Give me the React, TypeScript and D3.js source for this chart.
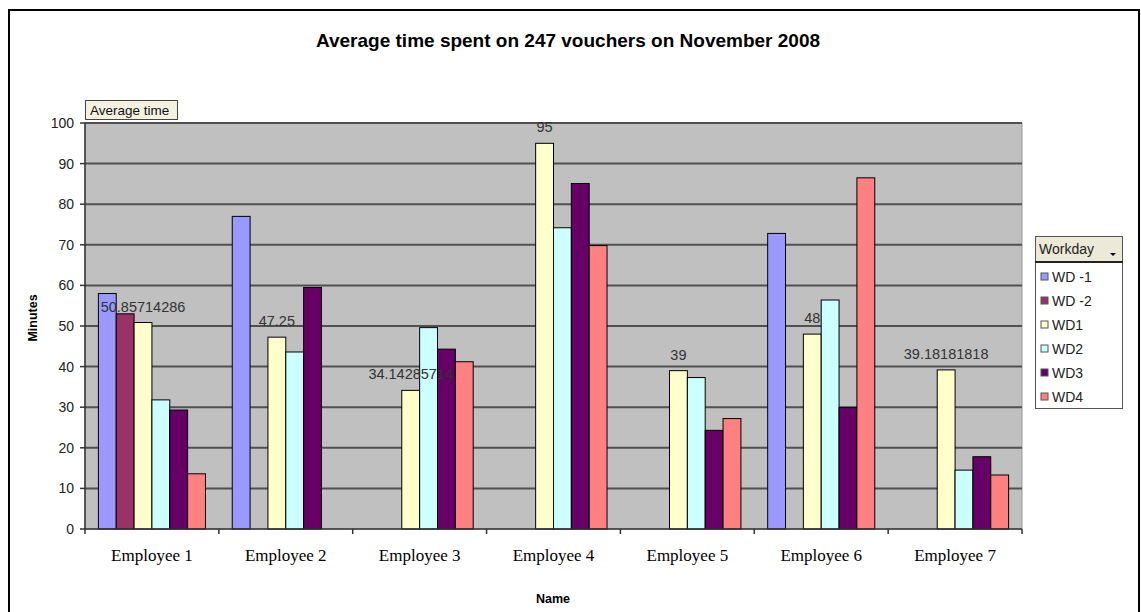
import React from "react";
import * as d3 from "d3";

const employees = ["Employee 1", "Employee 2", "Employee 3", "Employee 4", "Employee 5", "Employee 6", "Employee 7"];
const seriesNames = ["WD -1", "WD -2", "WD1", "WD2", "WD3", "WD4"];
const seriesColors = ["#9999FF", "#993366", "#FFFFCC", "#CCFFFF", "#660066", "#FF8080"];
const wdMinus1 = [58, 77, null, null, null, 72.8, null];
const wdMinus2 = [53, null, null, null, null, null, null];
const wd1 = [50.85714286, 47.25, 34.14285714, 95, 39, 48, 39.18181818];
const wd2 = [31.8, 43.6, 49.6, 74.2, 37.3, 56.4, 14.5];
const wd3 = [29.3, 59.5, 44.3, 85.1, 24.3, 29.9, 17.8];
const wd4 = [13.6, null, 41.2, 69.8, 27.2, 86.5, 13.3];
const seriesValues = [wdMinus1, wdMinus2, wd1, wd2, wd3, wd4];
const labeledSeries = "WD1";
const yTicks = [0, 10, 20, 30, 40, 50, 60, 70, 80, 90, 100];

const W = 1141, H = 612;
const plot = { left: 85, right: 1022, top: 123, bottom: 529 };

export default function App() {
  const x0 = d3.scaleBand<string>().domain(employees).range([plot.left, plot.right]).padding(0);
  const bw = x0.bandwidth();
  const barW = bw / 7.5;
  const x1 = d3.scaleBand<string>().domain(seriesNames).range([barW * 0.75, bw - barW * 0.75]).padding(0);
  const y = d3.scaleLinear().domain([0, 100]).range([plot.bottom, plot.top]);
  const sans = "'Liberation Sans', Arial, sans-serif";
  const serif = "'Liberation Serif', 'Times New Roman', serif";

  const bars: React.ReactNode[] = [];
  const labels: React.ReactNode[] = [];
  seriesNames.forEach((s, si) => {
    seriesValues[si].forEach((v, ei) => {
      if (v == null) return;
      const bx = (x0(employees[ei]) as number) + (x1(s) as number);
      bars.push(
        <rect key={`${s}-${ei}`} x={bx} y={y(v)} width={x1.bandwidth()} height={y(0) - y(v)}
          fill={seriesColors[si]} stroke="#000" strokeWidth={1} />
      );
      if (s === labeledSeries) {
        labels.push(
          <text key={`l-${ei}`} x={bx + x1.bandwidth() / 2} y={y(v) - 11} textAnchor="middle"
            fontFamily={sans} fontSize={14.5} fill="#333">{String(v)}</text>
        );
      }
    });
  });

  const legendX = 1035, legendY = 236, legendW = 87;
  const headerH = 26;
  const rowH = 24;

  return (
    <svg width={W} height={H} style={{ position: "absolute", left: 0, top: 0, background: "#fff" }}>
      <rect x={9} y={10} width={1130} height={640} fill="#fff" stroke="#000" strokeWidth={2} />
      <text x={568} y={47} textAnchor="middle" fontFamily={sans} fontWeight="bold" fontSize={19} fill="#000">
        Average time spent on 247 vouchers on November 2008
      </text>

      {/* Average time button */}
      <rect x={85.5} y={100.5} width={92} height={19} fill="#F4F1E1" stroke="#444" strokeWidth={1} />
      <text x={90} y={115} fontFamily={sans} fontSize={13.5} fill="#111">Average time</text>

      {/* plot area */}
      <rect x={plot.left} y={plot.top} width={plot.right - plot.left} height={plot.bottom - plot.top}
        fill="#C0C0C0" stroke="#9a9a9a" strokeWidth={1} />
      {yTicks.filter(t => t > 0).map(t => (
        <line key={`g${t}`} x1={plot.left} x2={plot.right} y1={y(t)} y2={y(t)} stroke="#505050" strokeWidth={2} />
      ))}
      {bars}

      {/* y axis */}
      <line x1={plot.left} x2={plot.left} y1={plot.top} y2={plot.bottom} stroke="#333" strokeWidth={1.5} />
      {yTicks.map(t => (
        <g key={`t${t}`}>
          <line x1={plot.left - 5} x2={plot.left} y1={y(t)} y2={y(t)} stroke="#333" strokeWidth={1.5} />
          <text x={plot.left - 11} y={y(t) + 5} textAnchor="end" fontFamily={sans} fontSize={14} fill="#222">{t}</text>
        </g>
      ))}

      {/* x axis */}
      <line x1={plot.left} x2={plot.right} y1={plot.bottom} y2={plot.bottom} stroke="#333" strokeWidth={1.5} />
      {[...employees.map(e => x0(e) as number), plot.right].map((xv, i) => (
        <line key={`xt${i}`} x1={xv} x2={xv} y1={plot.bottom} y2={plot.bottom + 5} stroke="#333" strokeWidth={1.5} />
      ))}
      {employees.map(e => (
        <text key={`xl${e}`} x={(x0(e) as number) + bw / 2} y={561} textAnchor="middle"
          fontFamily={serif} fontSize={17} fill="#000">{e}</text>
      ))}
      {labels}

      <text x={553} y={603} textAnchor="middle" fontFamily={sans} fontWeight="bold" fontSize={12.5} fill="#000">Name</text>
      <text transform={`translate(37, 318) rotate(-90)`} textAnchor="middle" fontFamily={sans} fontWeight="bold"
        fontSize={12.5} fill="#000">Minutes</text>

      {/* legend */}
      <rect x={legendX + 0.5} y={legendY + 0.5} width={legendW} height={headerH + rowH * 6 + 2} fill="#fff" stroke="#555" strokeWidth={1} />
      <rect x={legendX + 0.5} y={legendY + 0.5} width={legendW} height={headerH} fill="#ECE9D8" stroke="#555" strokeWidth={1} />
      <line x1={legendX} x2={legendX + legendW + 1} y1={legendY + headerH} y2={legendY + headerH} stroke="#222" strokeWidth={2} />
      <text x={legendX + 4} y={legendY + 18} fontFamily={sans} fontSize={14} fill="#222">Workday</text>
      <path d={`M${legendX + 75},${legendY + 17} l6,0 l-3,3 z`} fill="#000" />
      {seriesNames.map((s, i) => (
        <g key={`lg${s}`} transform={`translate(${legendX + 6}, ${legendY + headerH + 16 + i * rowH})`}>
          <rect x={0} y={-5} width={7} height={7} fill={seriesColors[i]} stroke="#555" strokeWidth={1} />
          <text x={11} y={2} dominantBaseline="middle" fontFamily={sans} fontSize={14} fill="#222" dy="-0.1em">{s}</text>
        </g>
      ))}
    </svg>
  );
}
